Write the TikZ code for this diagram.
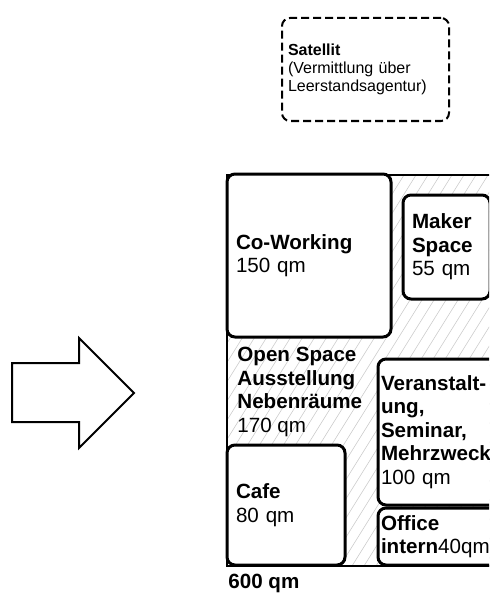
\documentclass[tikz,border=0pt]{standalone}
\usepackage{fontspec}
\setmainfont{Liberation Sans}
\usetikzlibrary{positioning}

\begin{document}
\begin{tikzpicture}[x=0.5pt, y=-0.5pt,
    room/.style={draw, line width=1.5pt, rounded corners=4pt, fill=white,
                 align=left, inner ysep=0pt,
                 font=\fontsize{10.3}{11.75}\selectfont},
    satbox/.style={draw, line width=1pt, dash pattern=on 4pt off 2pt,
                   rounded corners=4pt, align=left, inner ysep=0pt,
                   font=\fontsize{8}{9}\selectfont},
    note/.style={align=left, inner sep=0pt, anchor=west,
                 font=\fontsize{10.3}{11.75}\selectfont}]
    \useasboundingbox (0,0) rectangle (489,599);
    \clip (0,0) rectangle (489,599);

    % hatched floor area
    \begin{scope}
        \clip (227,175) rectangle (495,566);
        \foreach \x in {-20,-8,...,500}
            \draw[gray!40, line width=0.3pt] (\x,566) -- ++(244,-391);
    \end{scope}
    \draw[line width=0.7pt] (227,175) rectangle (495,566);

    % satellite
    \node[satbox, inner xsep=3pt, text width=77.5pt, minimum width=83.5pt, minimum height=51.5pt]
        (satellit) at (365.5,69.5) {\textbf{Satellit}\\(Vermittlung über\\Leerstandsagentur)};

    % rooms
    \node[room, inner xsep=4.5pt, text width=73pt, minimum width=82pt, minimum height=81.5pt]
        (cowork) at (309,255.5) {\textbf{Co-Working}\\150 qm};
    \node[room, inner xsep=4.5pt, text width=34.5pt, minimum width=43.5pt, minimum height=52pt]
        (maker) at (446.5,247) {\textbf{Maker}\\\textbf{Space}\\55 qm};
    \node[room, inner xsep=1.5pt, text width=58pt, minimum width=61pt, minimum height=73pt]
        (event) at (439,432) {\textbf{Veranstalt-}\\\textbf{ung,}\\\textbf{Seminar,}\\\textbf{Mehrzweck}\\100 qm};
    \node[room, inner xsep=1.5pt, text width=58pt, minimum width=61pt, minimum height=28.5pt]
        (office) at (439,536.5) {\textbf{Office}\\\textbf{intern}40qm};
    \node[room, inner xsep=4.5pt, text width=50pt, minimum width=59pt, minimum height=60pt]
        (cafe) at (286,505) {\textbf{Cafe}\\80 qm};

    \node[note] (openspace) at (237,392)
        {\textbf{Open Space}\\\textbf{Ausstellung}\\\textbf{Nebenräume}\\170 qm};
    \node[note] (total) at (228,583) {\textbf{600 qm}};

    % arrow
    \draw[line width=1pt] (12,363) -- (79,363) -- (79,338) -- (134,393)
        -- (79,448) -- (79,422) -- (12,422) -- cycle;
\end{tikzpicture}
\end{document}
